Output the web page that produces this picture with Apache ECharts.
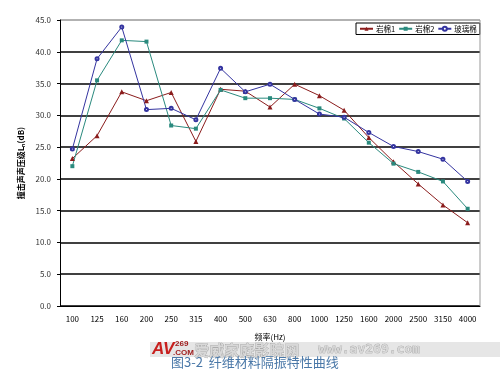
<!DOCTYPE html>
<html><head><meta charset="utf-8">
<script src="https://cdn.jsdelivr.net/npm/echarts@6/dist/echarts.min.js"></script>
<style>html,body{margin:0;padding:0;background:#fff}#c{width:500px;height:369px}</style>
</head><body><div id="c"></div>
<script>
const categories = ['100','125','160','200','250','315','400','500','630','800','1000','1250','1600','2000','2500','3150','4000'];
const rockWool1 = [23.2,26.8,33.7,32.3,33.6,25.9,34.1,33.8,31.3,34.9,33.1,30.8,26.5,22.7,19.2,15.9,13.1];
const rockWool2 = [22.0,35.5,41.8,41.6,28.4,27.9,34.0,32.7,32.7,32.5,31.1,29.5,25.7,22.4,21.1,19.6,15.3];
const glassWool = [24.7,38.9,43.9,30.9,31.1,29.3,37.4,33.7,34.9,32.5,30.2,29.7,27.3,25.1,24.3,23.1,19.6];
const seriesNames = ['岩棉1','岩棉2','玻璃棉'];
const yTicks = {min:0, max:45, interval:5};

const chart = echarts.init(document.getElementById('c'));
const font = 'SimSun, "Noto Sans CJK SC", serif';
chart.setOption({
  backgroundColor:'#fff',
  animation:false,
  grid:{left:60, right:20, top:20, bottom:63},
  legend:{
    left:356, top:23, orient:'horizontal',
    borderColor:'#000', borderWidth:1, padding:[2,3],
    itemWidth:13, itemHeight:5, itemGap:3,
    textStyle:{fontSize:7.5, color:'#000', fontFamily:font, padding:[0,0,0,-2]},
    data:seriesNames
  },
  xAxis:{
    type:'category', data:categories, boundaryGap:true,
    axisLine:{lineStyle:{color:'#000', width:1}},
    axisTick:{inside:true, length:3, lineStyle:{color:'#000'}},
    axisLabel:{fontSize:8, color:'#000', margin:9, fontFamily:font},
    name:'频率(Hz)', nameLocation:'middle', nameGap:27,
    nameTextStyle:{fontSize:8, color:'#000', fontFamily:font}
  },
  yAxis:{
    type:'value', min:yTicks.min, max:yTicks.max, interval:yTicks.interval,
    axisLine:{show:true, lineStyle:{color:'#000', width:1}},
    axisTick:{show:true, length:3, lineStyle:{color:'#000'}},
    axisLabel:{fontSize:8, color:'#333', margin:9, fontFamily:font, formatter:v=>v.toFixed(1)},
    splitLine:{show:true, lineStyle:{color:['#000','#000','#000','#000','#000','#000','#000','#000','#000','#999'], width:1.5}},
    name:'撞击声声压级Lₙ(dB)', nameLocation:'middle', nameGap:33,
    nameTextStyle:{fontSize:8, color:'#000', fontFamily:font, fontWeight:'bold'}
  },
  series:[
    {name:seriesNames[0], type:'line', data:rockWool1, symbol:'triangle', symbolSize:5,
     lineStyle:{color:'#8B1C1C', width:1}, itemStyle:{color:'#8B1C1C'}},
    {name:seriesNames[1], type:'line', data:rockWool2, symbol:'rect', symbolSize:4,
     lineStyle:{color:'#2A8A7E', width:1}, itemStyle:{color:'#2A8A7E'}},
    {name:seriesNames[2], type:'line', data:glassWool, symbol:'emptyCircle', symbolSize:3,
     lineStyle:{color:'#3434A0', width:1}, itemStyle:{color:'#3434A0', borderColor:'#3434A0', borderWidth:0.8}}
  ],
  graphic:[
    {type:'line', shape:{x1:480,y1:20,x2:480,y2:306}, style:{stroke:'#999', lineWidth:1}, z:10},
    {type:'rect', shape:{x:150,y:342,width:350,height:15}, style:{fill:'#e6e6e6'}, z:20},
    {type:'text', left:152, top:341, style:{text:'AV', font:'italic bold 17px "Liberation Sans", sans-serif', fill:'#c8201e'}, z:21},
    {type:'text', left:175, top:340, style:{text:'269', font:'bold 8px "Liberation Sans", sans-serif', fill:'#a02020'}, z:21},
    {type:'text', left:173, top:349, style:{text:'.COM', font:'bold 8px "Liberation Sans", sans-serif', fill:'#a02020'}, z:21},
    {type:'text', left:194, top:342, style:{text:'爱威家庭影院网', font:'bold 15px "Noto Sans CJK SC", sans-serif', fill:'#d8d8d8', stroke:'#999', lineWidth:0.6}, z:21},
    {type:'text', left:318, top:343, style:{text:'www.av269.com', font:'bold 13px "DejaVu Sans Mono", monospace', fill:'#d8d8d8', stroke:'#999', lineWidth:0.6}, z:21},
    {type:'text', left:171, top:356, style:{text:'图3-2  纤维材料隔振特性曲线', font:'13px "Noto Sans CJK SC", sans-serif', fill:'#4a78a8'}, z:21}
  ]
});
</script></body></html>
